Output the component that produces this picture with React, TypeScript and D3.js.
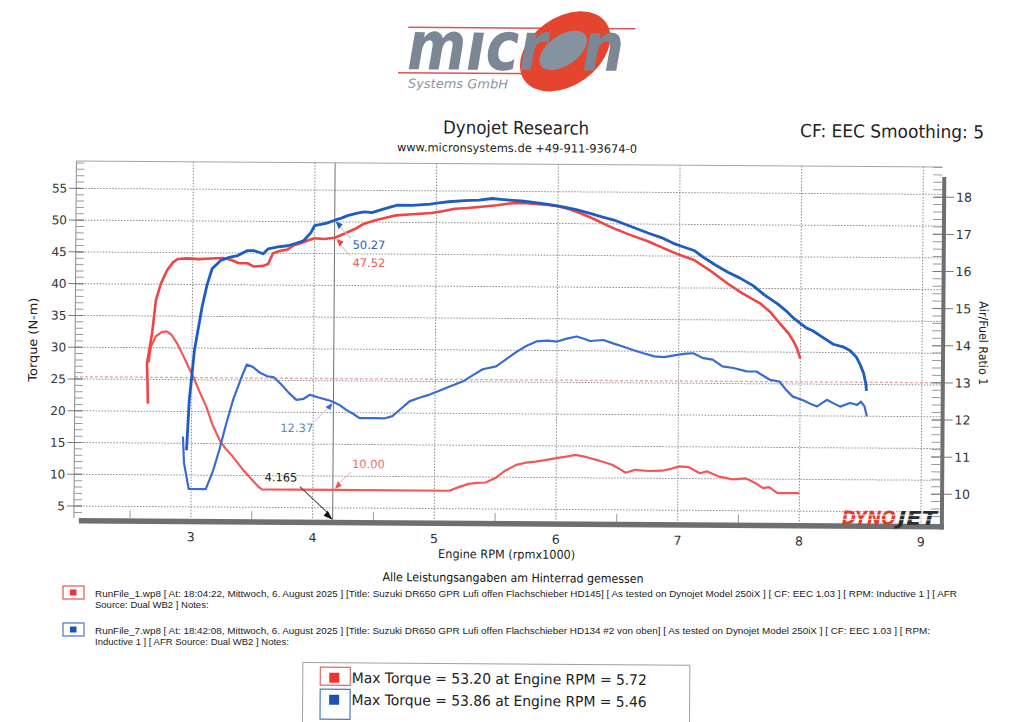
import React from "react";
import * as d3 from "d3";

// RunFile_1 (red) torque, N-m
const run1TorqueRpm = [2.64, 2.635, 2.63, 2.645, 2.67, 2.70, 2.74, 2.79, 2.84, 2.88, 2.95, 3.05, 3.15, 3.25, 3.32, 3.38, 3.45, 3.50, 3.58, 3.62, 3.66, 3.72, 3.78, 3.83, 3.90, 3.95, 4.00, 4.08, 4.165, 4.25, 4.33, 4.40, 4.50, 4.60, 4.67, 4.80, 4.96, 5.05, 5.15, 5.23, 5.35, 5.50, 5.60, 5.72, 5.84, 5.92, 6.00, 6.10, 6.19, 6.30, 6.40, 6.46, 6.55, 6.65, 6.74, 6.85, 7.00, 7.12, 7.25, 7.40, 7.52, 7.67, 7.75, 7.83, 7.90, 7.94, 7.97, 8.00];
const run1Torque = [21.2, 25.0, 27.5, 29.2, 32.2, 37.5, 40.1, 42.2, 43.5, 44.0, 44.1, 44.0, 44.1, 44.2, 43.9, 43.4, 43.4, 42.9, 43.0, 43.3, 45.0, 45.4, 45.6, 46.3, 46.7, 47.1, 47.4, 47.3, 47.52, 48.2, 48.9, 49.7, 50.3, 50.8, 51.1, 51.3, 51.5, 51.8, 52.2, 52.3, 52.5, 52.8, 53.1, 53.2, 53.0, 52.9, 52.7, 52.2, 51.6, 50.7, 49.8, 49.3, 48.6, 47.9, 47.3, 46.4, 45.2, 44.4, 42.8, 40.7, 39.2, 37.6, 36.3, 34.5, 33.0, 31.8, 30.7, 29.0];

// RunFile_1 (red) air/fuel ratio
const run1AfrRpm = [2.645, 2.66, 2.70, 2.75, 2.79, 2.83, 2.88, 2.93, 2.97, 3.01, 3.06, 3.12, 3.17, 3.23, 3.28, 3.34, 3.42, 3.50, 3.55, 3.58, 4.165, 5.12, 5.20, 5.28, 5.35, 5.42, 5.50, 5.58, 5.67, 5.75, 5.83, 5.92, 6.00, 6.08, 6.16, 6.25, 6.33, 6.40, 6.46, 6.52, 6.57, 6.65, 6.76, 6.87, 6.95, 7.01, 7.09, 7.18, 7.24, 7.34, 7.45, 7.56, 7.64, 7.70, 7.75, 7.82, 8.00];
const run1Afr = [13.4, 13.8, 14.1, 14.22, 14.24, 14.15, 13.9, 13.57, 13.3, 13.03, 12.65, 12.22, 11.75, 11.33, 11.1, 10.88, 10.55, 10.26, 10.08, 10.0, 10.0, 10.0, 10.1, 10.19, 10.22, 10.23, 10.35, 10.55, 10.71, 10.77, 10.8, 10.85, 10.9, 10.94, 10.99, 10.93, 10.86, 10.79, 10.73, 10.62, 10.52, 10.6, 10.57, 10.58, 10.64, 10.7, 10.68, 10.52, 10.57, 10.43, 10.36, 10.39, 10.26, 10.13, 10.16, 10.0, 10.0];

// RunFile_7 (blue) torque, N-m
const run7TorqueRpm = [2.96, 2.98, 3.02, 3.08, 3.12, 3.16, 3.23, 3.30, 3.37, 3.45, 3.50, 3.55, 3.58, 3.62, 3.70, 3.78, 3.85, 3.91, 3.97, 4.00, 4.05, 4.10, 4.165, 4.22, 4.27, 4.35, 4.41, 4.47, 4.55, 4.62, 4.68, 4.80, 4.95, 5.02, 5.10, 5.23, 5.35, 5.46, 5.55, 5.62, 5.70, 5.80, 5.92, 6.05, 6.15, 6.27, 6.36, 6.46, 6.53, 6.60, 6.67, 6.74, 6.85, 6.95, 7.01, 7.12, 7.20, 7.30, 7.40, 7.50, 7.61, 7.70, 7.81, 7.88, 7.94, 8.00, 8.05, 8.10, 8.18, 8.27, 8.35, 8.41, 8.46, 8.49, 8.52, 8.54, 8.545];
const run7Torque = [13.9, 21.8, 29.7, 36.5, 40.0, 42.5, 43.8, 44.3, 44.6, 45.4, 45.4, 45.1, 44.9, 45.7, 46.0, 46.2, 46.6, 47.0, 48.3, 49.4, 49.6, 49.8, 50.27, 50.6, 51.0, 51.4, 51.6, 51.5, 52.0, 52.4, 52.7, 52.7, 52.9, 53.1, 53.3, 53.5, 53.6, 53.86, 53.7, 53.6, 53.5, 53.3, 53.0, 52.6, 52.2, 51.6, 51.1, 50.6, 50.1, 49.6, 49.1, 48.6, 47.9, 47.0, 46.6, 45.9, 44.8, 43.6, 42.5, 41.6, 40.4, 39.0, 37.6, 36.5, 35.4, 34.5, 33.8, 33.4, 32.4, 31.3, 30.9, 30.3, 29.3, 28.2, 26.8, 25.1, 24.0];

// RunFile_7 (blue) air/fuel ratio
const run7AfrRpm = [2.93, 2.94, 2.98, 3.12, 3.18, 3.23, 3.28, 3.34, 3.40, 3.45, 3.50, 3.56, 3.62, 3.67, 3.73, 3.80, 3.86, 3.92, 3.97, 4.05, 4.12, 4.165, 4.22, 4.27, 4.33, 4.38, 4.50, 4.59, 4.65, 4.72, 4.79, 4.87, 4.95, 5.04, 5.12, 5.23, 5.31, 5.39, 5.50, 5.58, 5.67, 5.75, 5.83, 5.92, 6.00, 6.08, 6.16, 6.22, 6.27, 6.38, 6.46, 6.54, 6.63, 6.71, 6.80, 6.88, 7.00, 7.06, 7.12, 7.20, 7.28, 7.36, 7.45, 7.56, 7.64, 7.70, 7.75, 7.83, 7.88, 7.94, 8.02, 8.08, 8.14, 8.22, 8.28, 8.33, 8.41, 8.47, 8.50, 8.53, 8.55];
const run7Afr = [11.41, 10.7, 10.0, 10.0, 10.5, 11.06, 11.7, 12.41, 12.95, 13.36, 13.3, 13.14, 13.05, 13.03, 12.85, 12.6, 12.42, 12.45, 12.56, 12.48, 12.42, 12.37, 12.28, 12.16, 12.05, 11.94, 11.94, 11.94, 12.0, 12.2, 12.4, 12.5, 12.58, 12.7, 12.81, 12.95, 13.12, 13.28, 13.36, 13.55, 13.76, 13.92, 14.04, 14.06, 14.04, 14.12, 14.18, 14.12, 14.06, 14.09, 14.0, 13.92, 13.82, 13.74, 13.66, 13.64, 13.71, 13.74, 13.75, 13.62, 13.58, 13.4, 13.36, 13.27, 13.27, 13.15, 13.05, 13.0, 12.8, 12.6, 12.51, 12.42, 12.34, 12.52, 12.42, 12.34, 12.44, 12.39, 12.48, 12.35, 12.08];

const rpmTicks = [3, 4, 5, 6, 7, 8, 9];
const torqueTicks = [5, 10, 15, 20, 25, 30, 35, 40, 45, 50, 55];
const afrTicks = [10, 11, 12, 13, 14, 15, 16, 17, 18];

const cursorRpm = 4.165;
const cursorValues = { t7: 50.27, t1: 47.52, a7: 12.37, a1: 10.0 };

const runLegend = [
  {
    color: "#e65454", fill: "#ee3333",
    line1: "RunFile_1.wp8 [ At: 18:04:22, Mittwoch, 6. August 2025 ] [Title: Suzuki DR650 GPR Lufi offen Flachschieber HD145]  [ As tested on Dynojet Model 250iX ] [ CF: EEC 1.03 ] [ RPM: Inductive 1 ] [ AFR",
    line2: "Source: Dual WB2 ] Notes:",
    len1: 862,
  },
  {
    color: "#4a78c8", fill: "#1f50b5",
    line1: "RunFile_7.wp8 [ At: 18:42:08, Mittwoch, 6. August 2025 ] [Title: Suzuki DR650 GPR Lufi offen Flachschieber HD134 #2 von oben]  [ As tested on Dynojet Model 250iX ] [ CF: EEC 1.03 ] [ RPM:",
    line2: "Inductive 1 ] [ AFR Source: Dual WB2 ] Notes:",
    len1: 835,
  },
];

const maxRows = [
  { color: "#e06a6a", fill: "#ee3333", text: "Max Torque = 53.20 at Engine RPM = 5.72" },
  { color: "#4a78c8", fill: "#1f50b5", text: "Max Torque = 53.86 at Engine RPM = 5.46" },
];

const RED = "#ef4545";
const RED_AFR = "#f25858";
const BLUE = "#1f5cc2";
const BLUE_AFR = "#3a6cd0";

const left = 75, right = 941, top = 164, bottom = 521;

const x = d3.scaleLinear().domain([3, 9]).range([192, 922]);
const yT = d3.scaleLinear().domain([5, 55]).range([509.1, 191.4]);
const yA = d3.scaleLinear().domain([10, 18]).range([491.2, 194.2]);

const pts = (xs: number[], ys: number[]) => xs.map((v, i) => [v, ys[i]] as [number, number]);

export default function App() {
  const lineT = d3.line<[number, number]>().x((d) => x(d[0])).y((d) => yT(d[1]));
  const lineA = d3.line<[number, number]>().x((d) => x(d[0])).y((d) => yA(d[1]));

  const torqueMinor = d3.range(4, 60, 1).filter((v) => yT(v) >= top && yT(v) <= bottom);
  const afrMinor = d3.range(9.4, 18.81, 0.2).filter((v) => yA(v) >= top && yA(v) <= bottom);
  const rpmMinor = d3.range(2.5, 9, 1);

  const cx = x(cursorRpm);
  const font = "'DejaVu Sans', Verdana, sans-serif";
  const small = "'Liberation Sans', Arial, sans-serif";

  return (
    <svg width={1024} height={722} style={{ position: "absolute", left: 0, top: 0, background: "#fff" }} fontFamily={font}>
      <rect width={1024} height={722} fill="#fff" />
      <g transform="rotate(0.4 512 361)">
        {/* logo */}
        <g>
          <line x1={406} x2={633} y1={28} y2={28} stroke="#df5555" strokeWidth={1.5} />
          <line x1={396} x2={588} y1={73.5} y2={73.5} stroke="#df5555" strokeWidth={1.5} />
          <ellipse cx={563} cy={51} rx={50} ry={34} transform="rotate(-36 563 51)" fill="#e5452f" />
          <ellipse cx={561} cy={50} rx={27} ry={15} transform="rotate(-35 561 50)" fill="#8592a0" />
          <text x={405} y={70} fontSize={68} fontWeight="bold" fontStyle="italic" fill="#7b8794" textLength={140} lengthAdjust="spacingAndGlyphs">mıcr</text>
          <text x={580} y={70} fontSize={68} fontWeight="bold" fontStyle="italic" fill="#7b8794" textLength={42} lengthAdjust="spacingAndGlyphs">n</text>
          <text x={406} y={88.5} fontSize={12.5} fontStyle="italic" fill="#8a96a2" textLength={100} lengthAdjust="spacingAndGlyphs">Systems GmbH</text>
        </g>

        {/* headings */}
        <text x={514.5} y={134} textAnchor="middle" fontSize={18} fill="#222" textLength={146} lengthAdjust="spacingAndGlyphs">Dynojet Research</text>
        <text x={515.5} y={152} textAnchor="middle" fontSize={11.5} fill="#222" textLength={240} lengthAdjust="spacingAndGlyphs">www.micronsystems.de  +49-911-93674-0</text>
        <text x={798.5} y={135} fontSize={18} fill="#222" textLength={184} lengthAdjust="spacingAndGlyphs">CF: EEC Smoothing: 5</text>

        {/* grid */}
        {torqueTicks.map((t) => (
          <line key={"gh" + t} x1={left} x2={right} y1={yT(t)} y2={yT(t)} stroke="#8c8c8c" strokeWidth={1} strokeDasharray="1.5 1.5" />
        ))}
        {rpmTicks.map((r) => (
          <line key={"gv" + r} x1={x(r)} x2={x(r)} y1={top} y2={bottom} stroke="#8c8c8c" strokeWidth={1} strokeDasharray="1.5 1.5" />
        ))}
        <line x1={left} x2={right} y1={yA(13)} y2={yA(13)} stroke="#e3a3a3" strokeWidth={1.3} strokeDasharray="3 2" />

        {/* cursor */}
        <line x1={cx} x2={cx} y1={top} y2={bottom} stroke="#707070" strokeWidth={1} />

        {/* curves */}
        <path d={lineA(pts(run1AfrRpm, run1Afr)) as string} fill="none" stroke={RED_AFR} strokeWidth={2.2} strokeLinejoin="round" />
        <path d={lineA(pts(run7AfrRpm, run7Afr)) as string} fill="none" stroke={BLUE_AFR} strokeWidth={2.2} strokeLinejoin="round" />
        <path d={lineT(pts(run1TorqueRpm, run1Torque)) as string} fill="none" stroke={RED} strokeWidth={2.6} strokeLinejoin="round" />
        <path d={lineT(pts(run7TorqueRpm, run7Torque)) as string} fill="none" stroke={BLUE} strokeWidth={2.8} strokeLinejoin="round" />

        {/* cursor annotations */}
        <g fontSize={11.5}>
          <line x1={cx + 2} y1={yT(cursorValues.t7) + 3} x2={cx + 16} y2={yT(cursorValues.t7) + 18} stroke="#b8c8e8" />
          <path d={`M${cx + 1},${yT(cursorValues.t7) + 1} l7,3 l-4,5 z`} fill={BLUE} />
          <text x={cx + 18} y={yT(cursorValues.t7) + 28.5} fill="#2f5fb5">{cursorValues.t7.toFixed(2)}</text>

          <line x1={cx + 2} y1={yT(cursorValues.t1) + 3} x2={cx + 16} y2={yT(cursorValues.t1) + 18} stroke="#f0b8b8" />
          <path d={`M${cx + 2},${yT(cursorValues.t1) + 1} l7,3 l-4,5 z`} fill={RED} />
          <text x={cx + 18} y={yT(cursorValues.t1) + 29} fill="#ef5656">{cursorValues.t1.toFixed(2)}</text>

          <line x1={cx - 2} y1={yA(cursorValues.a7) + 3} x2={cx - 18} y2={yA(cursorValues.a7) + 19} stroke="#c4d2ee" />
          <path d={`M${cx - 1},${yA(cursorValues.a7) + 1} l-2,7 l-5,-3 z`} fill={BLUE_AFR} />
          <text x={cx - 20} y={yA(cursorValues.a7) + 30.3} textAnchor="end" fill="#5a82cc">{cursorValues.a7.toFixed(2)}</text>

          <line x1={cx + 3} y1={yA(cursorValues.a1) - 4} x2={cx + 18} y2={yA(cursorValues.a1) - 18} stroke="#f4c0c0" />
          <path d={`M${cx + 2},${yA(cursorValues.a1) - 1} l3,-8 l4,5 z`} fill={RED_AFR} />
          <text x={cx + 19} y={yA(cursorValues.a1) - 22} fill="#f07070">{cursorValues.a1.toFixed(2)}</text>

          <text x={cx - 52} y={483} textAnchor="middle" fill="#222">{cursorRpm.toFixed(3)}</text>
          <line x1={cx - 33} y1={488} x2={cx - 4} y2={bottom - 6} stroke="#444" strokeWidth={1} />
          <path d={`M${cx},${bottom} l-9,-4 l4,-5 z`} fill="#111" />
        </g>

        {/* left axis */}
        <line x1={left} x2={left} y1={top} y2={bottom} stroke="#8a8a8a" />
        <line x1={left} x2={right} y1={top} y2={top} stroke="#a5a5a5" />
        {torqueMinor.map((t) => (
          <line key={"tm" + t} x1={left} x2={left + 8} y1={yT(t)} y2={yT(t)} stroke="#9a9a9a" />
        ))}
        {torqueTicks.map((t) => (
          <g key={"tt" + t}>
            <line x1={left - 7} x2={left + 8} y1={yT(t)} y2={yT(t)} stroke="#7a7a7a" />
            <text x={left - 9} y={yT(t)} dy="0.36em" textAnchor="end" fontSize={12} fill="#333">{t}</text>
          </g>
        ))}
        <text transform={`translate(37,343) rotate(-90)`} textAnchor="middle" fontSize={12} fill="#222" textLength={84} lengthAdjust="spacingAndGlyphs">Torque (N-m)</text>

        {/* right axis */}
        {afrMinor.map((a, i) => (
          <line key={"am" + i} x1={right - 9} x2={right} y1={yA(a)} y2={yA(a)} stroke="#9a9a9a" />
        ))}
        {afrTicks.map((a) => (
          <g key={"at" + a}>
            <line x1={right - 9} x2={right + 12} y1={yA(a)} y2={yA(a)} stroke="#7a7a7a" />
            <text x={right + 14} y={yA(a)} dy="0.36em" fontSize={12.5} fill="#333">{a}</text>
          </g>
        ))}
        <text transform={`translate(979,340) rotate(90)`} textAnchor="middle" fontSize={12} fill="#222" textLength={84} lengthAdjust="spacingAndGlyphs">Air/Fuel Ratio 1</text>

        {/* bottom axis */}
        {rpmMinor.map((r) => (
          <line key={"rm" + r} x1={x(r)} x2={x(r)} y1={bottom - 8} y2={bottom} stroke="#9a9a9a" />
        ))}
        <rect x={80} y={bottom} width={right + 4 - 80} height={5.5} fill="#6c7070" />
        <rect x={right} y={174} width={4} height={bottom + 5.5 - 174} fill="#6c7070" />
        {rpmTicks.map((r) => (
          <text key={"rt" + r} x={x(r)} y={543.5} textAnchor="middle" fontSize={12.5} fill="#333">{r}</text>
        ))}
        <text x={508} y={558.5} textAnchor="middle" fontSize={12} fill="#222" textLength={137} lengthAdjust="spacingAndGlyphs">Engine RPM (rpmx1000)</text>

        {/* DYNOJET mark */}
        <g fontSize={19} fontWeight="bold" fontStyle="italic">
          <text x={843} y={522} fill="#e3392c" textLength={54} lengthAdjust="spacingAndGlyphs">DYNO</text>
          <text x={899} y={522} fill="#2a2d30" textLength={39} lengthAdjust="spacingAndGlyphs">JET</text>
          <line x1={840} x2={940} y1={512.5} y2={512.5} stroke="#fff" strokeWidth={0.8} />
          <line x1={840} x2={940} y1={517} y2={517} stroke="#fff" strokeWidth={0.8} />
        </g>

        {/* notes */}
        <text x={514.5} y={582} textAnchor="middle" fontSize={12} fill="#111" textLength={261} lengthAdjust="spacingAndGlyphs">Alle Leistungsangaben am Hinterrad gemessen</text>

        {/* max torque box */}
        <rect x={305} y={664} width={387} height={80} fill="#fff" stroke="#a0a0a0" strokeWidth={1} />
        {maxRows.map((m, i) => (
          <g key={"mr" + i} transform={`translate(0,${i * 22})`}>
            <rect x={322.5} y={668.5} width={30} height={i === 0 ? 18 : 30} fill="#fff" stroke={m.color} strokeWidth={1.2} />
            <rect x={331.5} y={674} width={10} height={10} fill={m.fill} />
            <text x={354} y={684} fontSize={14.5} fill="#222" textLength={295} lengthAdjust="spacingAndGlyphs">{m.text}</text>
          </g>
        ))}
      </g>

      {/* run legend (kept level so the long lines do not fan out) */}
      {runLegend.map((r, i) => (
        <g key={"rl" + i} transform={`translate(0,${i * 37})`} fontFamily={small}>
          <rect x={63} y={586} width={21} height={13} fill="#fff" stroke={r.color} strokeWidth={1.2} />
          <rect x={70} y={589.5} width={6.5} height={6} fill={r.fill} />
          <text x={95} y={597} fontSize={9.5} fill="#222" textLength={r.len1} lengthAdjust="spacingAndGlyphs">{r.line1}</text>
          <text x={95} y={607.8} fontSize={9.5} fill="#222">{r.line2}</text>
        </g>
      ))}
    </svg>
  );
}
